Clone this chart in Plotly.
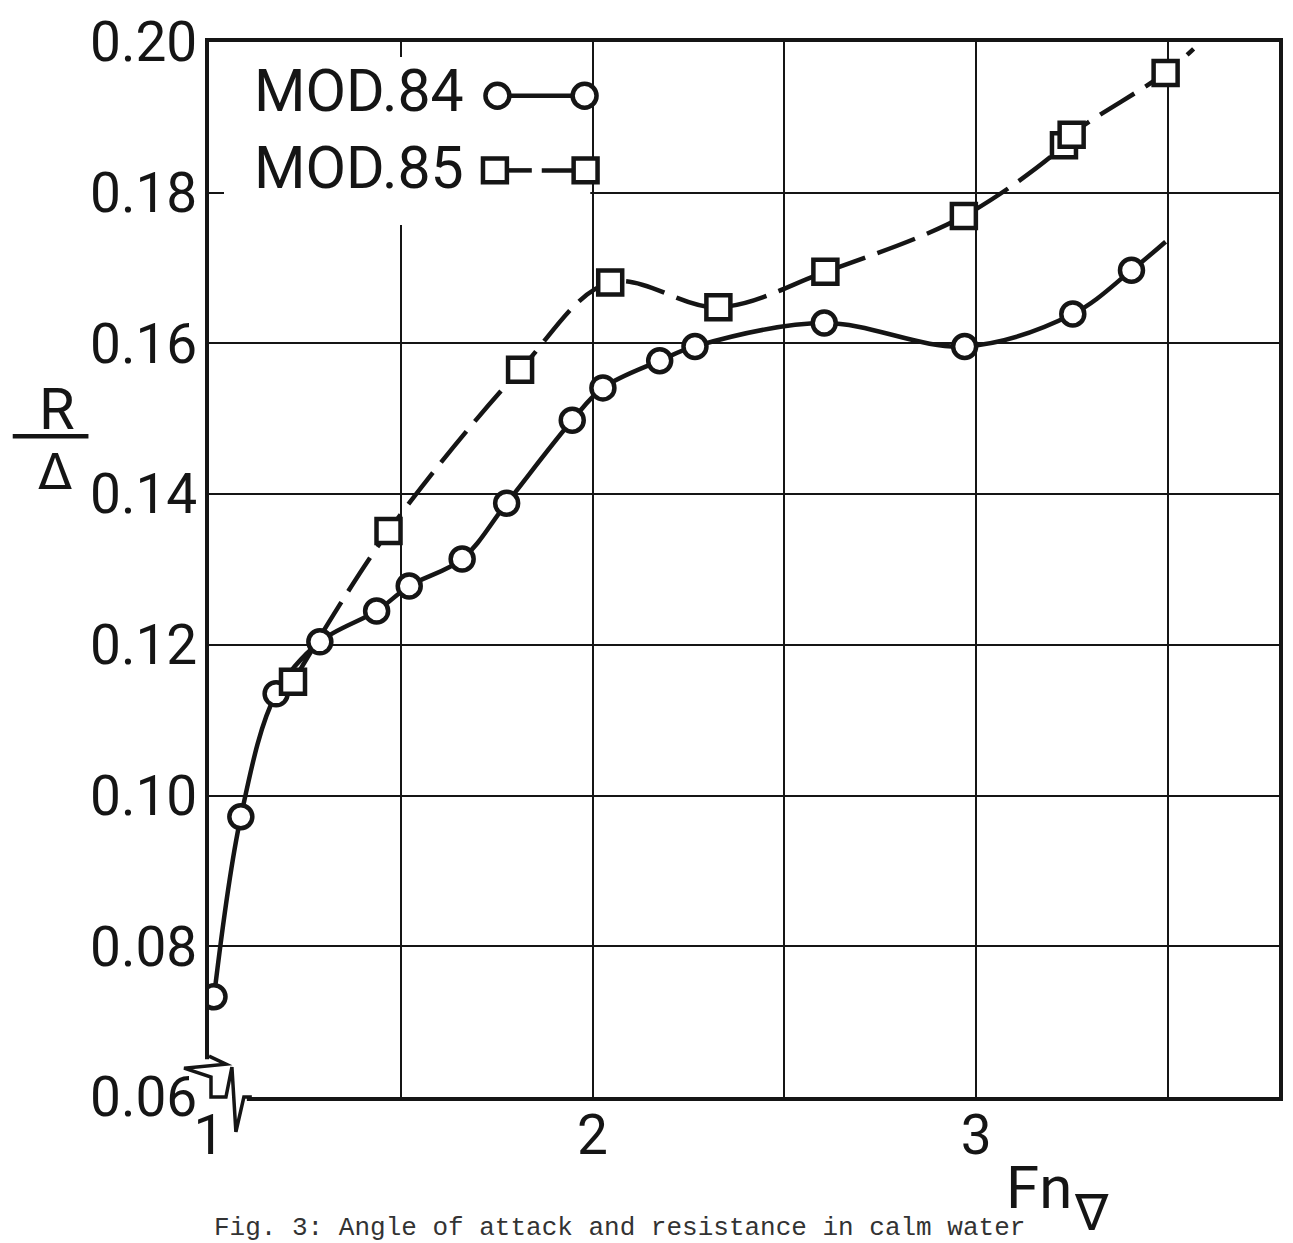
import plotly.graph_objects as go

# ---------------- data ----------------
mod84_fn = [1.013, 1.083, 1.175, 1.289, 1.437, 1.522, 1.660, 1.776, 1.947, 2.027,
            2.175, 2.267, 2.604, 2.970, 3.252, 3.405]
mod84_r = [0.0733, 0.0972, 0.1135, 0.1204, 0.1245, 0.1278, 0.1314, 0.1388, 0.1498, 0.1541,
           0.1577, 0.1596, 0.1627, 0.1596, 0.1639, 0.1697]
mod84_curve_end_fn = 3.494
mod84_curve_end_r = 0.1735

mod85_fn = [1.219, 1.468, 1.811, 2.046, 2.328, 2.607, 2.968, 3.229, 3.249, 3.494]
mod85_r = [0.1151, 0.1351, 0.1565, 0.1681, 0.1648, 0.1695, 0.1769, 0.1863, 0.1877, 0.1959]
mod85_curve_end_fn = 3.567
mod85_curve_end_r = 0.1991

x_tickvals = [1, 1.5, 2, 2.5, 3, 3.5]
x_ticktext = ["1", "", "2", "", "3", ""]
y_tickvals = [0.06, 0.08, 0.10, 0.12, 0.14, 0.16, 0.18, 0.20]
y_ticktext = ["0.06", "0.08", "0.10", "0.12", "0.14", "0.16", "0.18", "0.20"]

# ---------------- layout geometry ----------------
FIG_W, FIG_H = 1293, 1243
L, T, R, B = 209, 37, 1283, 1097
W, H = R - L, B - T
INK = "#151515"
FONT = "Roboto, sans-serif"


def px(x):
    return (x - L) / W


def py(y):
    return (B - y) / H


fig = go.Figure()

# faired curves
fig.add_trace(go.Scatter(
    x=mod85_fn + [mod85_curve_end_fn], y=mod85_r + [mod85_curve_end_r],
    mode="lines", line=dict(color=INK, width=4.5, dash="40px,13px", shape="spline", smoothing=1),
    name="MOD.85", showlegend=False, hoverinfo="skip"))
fig.add_trace(go.Scatter(
    x=mod84_fn + [mod84_curve_end_fn], y=mod84_r + [mod84_curve_end_r],
    mode="lines", line=dict(color=INK, width=4.5, shape="spline", smoothing=1),
    name="MOD.84", showlegend=False, hoverinfo="skip"))
# measured points
fig.add_trace(go.Scatter(
    x=mod84_fn, y=mod84_r, mode="markers", name="MOD.84", showlegend=False,
    marker=dict(symbol="circle", size=23, color="white", line=dict(color=INK, width=4.5))))
fig.add_trace(go.Scatter(
    x=mod85_fn, y=mod85_r, mode="markers", name="MOD.85", showlegend=False,
    marker=dict(symbol="square", size=24, color="white", line=dict(color=INK, width=4.5))))

axis_common = dict(
    showgrid=True, gridcolor=INK, gridwidth=2,
    showline=True, linecolor=INK, linewidth=3.5, mirror="ticks",
    ticks="inside", ticklen=15, tickwidth=2, tickcolor=INK,
    zeroline=False, tickfont=dict(family=FONT, size=55, color=INK),
)
fig.update_xaxes(range=[1, 1 + W / 385.0], tickmode="array", tickvals=x_tickvals,
                 ticktext=x_ticktext, ticklabelstandoff=-13, **axis_common)
fig.update_yaxes(range=[0.06, 0.20], tickmode="array", tickvals=y_tickvals,
                 ticktext=y_ticktext, ticklabelstandoff=-3, **axis_common)

shapes = []
# blank area behind the legend
shapes.append(dict(type="rect", xref="x", yref="y", x0=1.0, x1=1.994, y0=0.1757, y1=0.2,
                   fillcolor="white", line=dict(width=0), layer="between"))
# axis break
shapes.append(dict(type="rect", xref="paper", yref="paper",
                   x0=px(199), x1=px(247), y0=py(1102), y1=py(1059),
                   fillcolor="white", line=dict(width=0), layer="above"))
brk = [(209, 1056), (226, 1064), (184, 1068), (211, 1077), (211, 1097), (226, 1097),
       (232, 1067), (236, 1132), (244, 1097), (252, 1097)]
path = "M " + " L ".join(f"{px(a):.5f},{py(b):.5f}" for a, b in brk)
shapes.append(dict(type="path", xref="paper", yref="paper", path=path,
                   line=dict(color=INK, width=3.5), layer="above"))


# legend symbols
def circ(cx, cy, r=12):
    return dict(type="circle", xref="paper", yref="paper", x0=px(cx - r), x1=px(cx + r),
                y0=py(cy + r), y1=py(cy - r), fillcolor="white",
                line=dict(color=INK, width=4.5), layer="above")


def sq(cx, cy, r=12):
    return dict(type="rect", xref="paper", yref="paper", x0=px(cx - r), x1=px(cx + r),
                y0=py(cy + r), y1=py(cy - r), fillcolor="white",
                line=dict(color=INK, width=4.5), layer="above")


def seg(x0, x1, y):
    return dict(type="line", xref="paper", yref="paper", x0=px(x0), x1=px(x1),
                y0=py(y), y1=py(y), line=dict(color=INK, width=4.5), layer="above")


shapes += [seg(510, 574, 91), circ(498.5, 91), circ(586, 91)]
shapes += [seg(508, 533, 166), seg(543, 575, 166), sq(496, 166), sq(587, 166)]
# fraction bar of R/Δ
shapes.append(dict(type="line", xref="paper", yref="paper", x0=px(12), x1=px(88),
                   y0=py(433), y1=py(433), line=dict(color=INK, width=4.5)))

annotations = [
    dict(text="MOD.84", x=px(252), y=py(86), xanchor="left", yanchor="middle"),
    dict(text="MOD.85", x=px(252), y=py(163), xanchor="left", yanchor="middle"),
    dict(text="R", x=px(56), y=py(406), xanchor="center", yanchor="middle",
         font=dict(family=FONT, size=58, color=INK)),
    dict(text="Δ", x=px(54), y=py(469), xanchor="center", yanchor="middle",
         font=dict(family="DejaVu Sans", size=50, color=INK)),
    dict(text="Fn", x=px(1007), y=py(1188), xanchor="left", yanchor="middle",
         font=dict(family=FONT, size=60, color=INK)),
    dict(text="∇", x=px(1095), y=py(1214), xanchor="center", yanchor="middle",
         font=dict(family="DejaVu Sans", size=50, color=INK)),
    dict(text="Fig. 3: Angle of attack and resistance in calm water", x=px(212), y=py(1212),
         xanchor="left", yanchor="top",
         font=dict(family="Liberation Mono, DejaVu Sans Mono, monospace", size=26, color="#333")),
]
for a in annotations:
    a.setdefault("xref", "paper")
    a.setdefault("yref", "paper")
    a.setdefault("showarrow", False)
    a.setdefault("font", dict(family=FONT, size=59, color=INK))

fig.update_layout(
    width=FIG_W, height=FIG_H, autosize=False,
    margin=dict(l=L, r=FIG_W - R, t=T, b=FIG_H - B),
    paper_bgcolor="white", plot_bgcolor="white",
    showlegend=False, shapes=shapes, annotations=annotations,
)

fig.write_html("out.html")
